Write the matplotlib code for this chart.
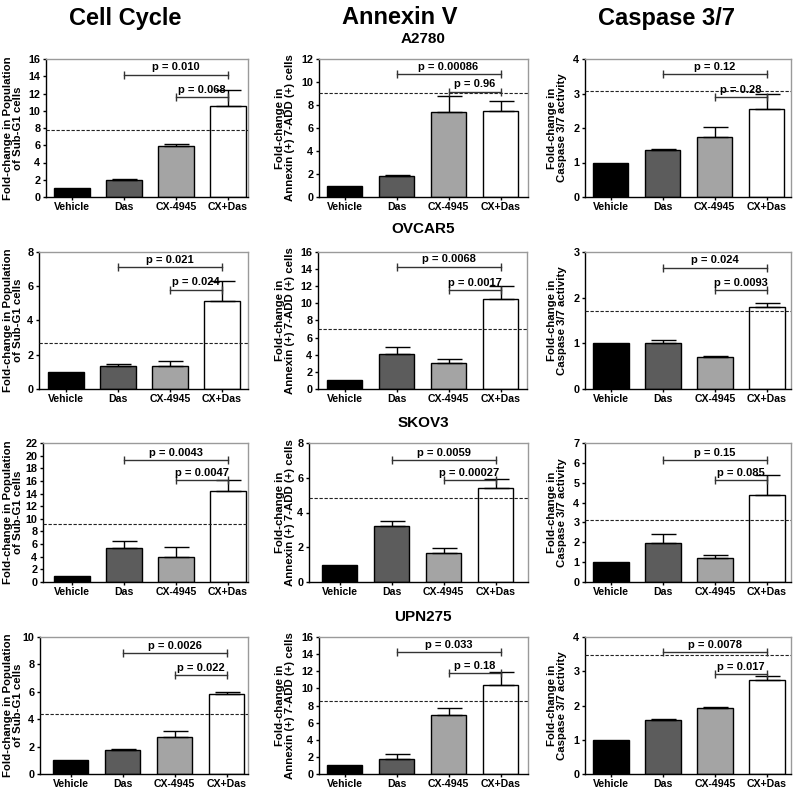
import matplotlib
matplotlib.use("Agg")
import matplotlib.pyplot as plt
import numpy as np

plt.rcParams['font.family'] = ['Liberation Sans', 'DejaVu Sans']
plt.rcParams['font.weight'] = 'bold'

# ---------------- data ----------------
groups = ["Vehicle", "Das", "CX-4945", "CX+Das"]
cell_lines = ["A2780", "OVCAR5", "SKOV3", "UPN275"]
assays = ["Cell Cycle", "Annexin V", "Caspase 3/7"]
ylabels = ["Fold-change in Population\nof Sub-G1 cells",
           "Fold-change in\nAnnexin (+) 7-ADD (+) cells",
           "Fold-change in\nCaspase 3/7 activity"]

# Cell cycle (sub-G1)
cc_mean = [[1.0, 1.97, 5.86, 10.55],
           [1.0, 1.32, 1.36, 5.12],
           [1.0, 5.33, 3.90, 14.40],
           [1.0, 1.72, 2.70, 5.81]]
cc_err = [[0.0, 0.11, 0.27, 1.85],
          [0.0, 0.13, 0.27, 1.20],
          [0.0, 1.11, 1.70, 1.70],
          [0.0, 0.07, 0.44, 0.19]]
cc_dash = [7.75, 2.67, 9.13, 4.36]
cc_brk = [(14.2, 11.64), (7.13, 5.81), (19.26, 16.2), (8.85, 7.23)]
cc_p = [("0.010", "0.068"), ("0.021", "0.024"), ("0.0043", "0.0047"), ("0.0026", "0.022")]
cc_ymax = [16, 8, 22, 10]
cc_step = [2, 2, 2, 2]

# Annexin V
an_mean = [[1.0, 1.79, 7.40, 7.50],
           [1.0, 4.12, 3.04, 10.46],
           [1.0, 3.24, 1.67, 5.41],
           [1.0, 1.72, 6.90, 10.42]]
an_err = [[0.0, 0.11, 1.38, 0.86],
          [0.0, 0.84, 0.50, 1.58],
          [0.0, 0.27, 0.31, 0.52],
          [0.0, 0.62, 0.76, 1.48]]
an_dash = [9.05, 7.0, 4.86, 8.47]
an_brk = [(10.7, 9.17), (14.3, 11.6), (7.04, 5.89), (14.25, 11.8)]
an_p = [("0.00086", "0.96"), ("0.0068", "0.0017"), ("0.0059", "0.00027"), ("0.033", "0.18")]
an_ymax = [12, 16, 8, 16]
an_step = [2, 2, 2, 2]

# Caspase 3/7
ca_mean = [[1.0, 1.36, 1.75, 2.54],
           [1.0, 1.01, 0.705, 1.79],
           [1.0, 1.95, 1.19, 4.40],
           [1.0, 1.58, 1.94, 2.75]]
ca_err = [[0.0, 0.03, 0.29, 0.46],
          [0.0, 0.06, 0.022, 0.10],
          [0.0, 0.47, 0.17, 0.97],
          [0.0, 0.02, 0.03, 0.10]]
ca_dash = [3.08, 1.71, 3.12, 3.46]
ca_brk = [(3.57, 2.91), (2.66, 2.17), (6.12, 5.15), (3.57, 2.92)]
ca_p = [("0.12", "0.28"), ("0.024", "0.0093"), ("0.15", "0.085"), ("0.0078", "0.017")]
ca_ymax = [4, 3, 7, 4]
ca_step = [1, 1, 1, 1]

bar_colors = ["#000000", "#5c5c5c", "#a4a4a4", "#ffffff"]

# ---------------- layout (pixels) ----------------
W, H = 794, 790
row_tb = [(59, 197), (252, 389), (443, 582), (637, 774)]
# (left, first bar centre, right) per row, per column
col_x = [[(46, 72, 248), (319, 344.5, 528), (585, 610.5, 791)],
         [(39, 66, 248), (318, 344.5, 527), (585, 611, 791)],
         [(43, 72, 248), (309, 339.5, 528), (585, 611, 791)],
         [(40, 70.5, 248), (319, 344.5, 528), (585, 611, 791)]]
spacing = 52.0
ylabel_x = [13, 285, 557]
title_x = [125, 400, 667]
row_title_y = [39, 229, 423, 617]

fig = plt.figure(figsize=(W / 100, H / 100), dpi=100)
fig.patch.set_facecolor("white")

for c, t in enumerate(assays):
    fig.text(title_x[c] / W, 1 - 18 / H, t, ha="center", va="center",
             fontsize=17, fontweight="bold")
for r, name in enumerate(cell_lines):
    fig.text(423 / W, 1 - row_title_y[r] / H, name, ha="center", va="center",
             fontsize=11, fontweight="bold")

datasets = [
    (cc_mean, cc_err, cc_dash, cc_brk, cc_p, cc_ymax, cc_step),
    (an_mean, an_err, an_dash, an_brk, an_p, an_ymax, an_step),
    (ca_mean, ca_err, ca_dash, ca_brk, ca_p, ca_ymax, ca_step),
]

x = np.arange(len(groups))
for r in range(4):
    top, bot = row_tb[r]
    for c in range(3):
        means, errs, dash, brk, pv, ymax, step = [d[r] for d in datasets[c]]
        left, c0, right = col_x[r][c]
        ax = fig.add_axes([left / W, 1 - bot / H, (right - left) / W, (bot - top) / H])
        ax.set_xlim((left - c0) / spacing, (right - c0) / spacing)
        ax.set_ylim(0, ymax)
        ax.bar(x, means, width=0.68, color=bar_colors, edgecolor="black",
               linewidth=1.0, zorder=2)
        for i in range(len(groups)):
            if errs[i] > 0:
                ax.errorbar([x[i]], [means[i]], yerr=[[0], [errs[i]]], fmt="none",
                            ecolor="black", elinewidth=1.0, capsize=9, capthick=1.0,
                            zorder=3)
        ax.axhline(dash, color="#222222", lw=0.8, ls=(0, (3, 1.5)), zorder=4)
        # significance brackets
        for (x1, x2, yb, ptxt) in [(1, 3, brk[0], pv[0]), (2, 3, brk[1], pv[1])]:
            ax.plot([x1, x2], [yb, yb], color="#333333", lw=1.0, zorder=5)
            ax.plot([x1, x2], [yb, yb], ls="none", marker="|", ms=6, mew=1.0,
                    color="#333333", zorder=5)
            ax.annotate("p = " + ptxt, xy=((x1 + x2) / 2, yb), xytext=(0, 1.5),
                        textcoords="offset points", ha="center", va="bottom",
                        fontsize=8, fontweight="bold", zorder=6)
        ax.set_yticks(np.arange(0, ymax + 0.001, step))
        ax.set_yticklabels([str(int(v)) for v in np.arange(0, ymax + 0.001, step)])
        ax.set_xticks(x)
        ax.set_xticklabels(groups)
        ax.tick_params(axis="y", labelsize=7.8, length=2.5, width=1.0, pad=1.5,
                       direction="out")
        ax.tick_params(axis="x", labelsize=7.6, length=2.5, width=1.0, pad=1.0,
                       direction="out")
        for lab in ax.get_xticklabels() + ax.get_yticklabels():
            lab.set_fontweight("bold")
        for s in ["left", "bottom"]:
            ax.spines[s].set_color("black")
            ax.spines[s].set_linewidth(1.0)
        for s in ["top", "right"]:
            ax.spines[s].set_color("#9a9a9a")
            ax.spines[s].set_linewidth(1.0)
        fig.text(ylabel_x[c] / W, 1 - (top + bot) / 2 / H, ylabels[c], rotation=90,
                 ha="center", va="center", fontsize=8.2, fontweight="bold",
                 multialignment="center", linespacing=1.05)

fig.savefig("out.png", dpi=100, facecolor="white")
